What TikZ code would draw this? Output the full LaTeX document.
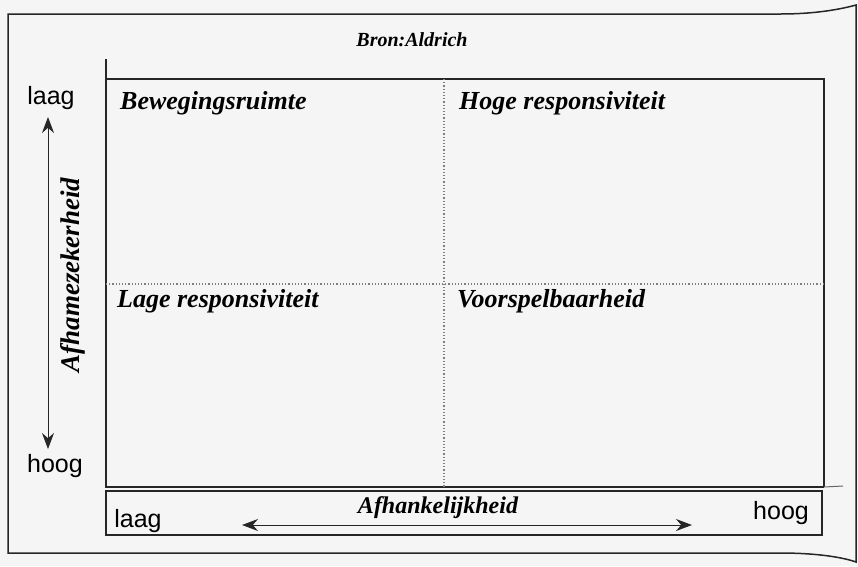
\documentclass[tikz,border=0pt]{standalone}
\usepackage{fontspec}
\setmainfont{Liberation Serif}
\newfontfamily\labelsans{Liberation Sans}
\usetikzlibrary{arrows.meta}
\begin{document}
\begin{tikzpicture}[x=1pt,y=-1pt,
  frame/.style={line width=1.5pt, draw=black!85},
  gridline/.style={line width=1.2pt, draw=black!50, dotted},
  quad/.style={font=\fontsize{26}{30}\selectfont\bfseries\itshape, anchor=west, inner sep=0pt},
  axislabel/.style={font=\fontsize{24}{28}\selectfont\bfseries\itshape, inner sep=0pt},
  endlabel/.style={font=\labelsans\fontsize{25}{29}\selectfont, inner sep=0pt},
  axisarrow/.style={line width=1pt, draw=black!85,
    {Stealth[length=16pt,width=12pt]}-{Stealth[length=16pt,width=12pt]}}
]
% paper
\fill[black!4] (0,0) rectangle (858,566);
\useasboundingbox (0,0) rectangle (858,566);

% outer frame with the curled right edge
\draw[frame] (780,14) -- (8,14) -- (8,553) -- (780,553)
  .. controls (820,553) and (845,558) .. (856,562) -- (856,5)
  .. controls (845,8) and (820,14) .. (780,14);

% matrix box
\draw[frame] (106,59) -- (106,487) -- (824,487);
\draw[frame] (106,79) -- (824,79) -- (824,487);
\draw[line width=1pt, draw=black!60] (824,487) -- (843,486);
% strip for the horizontal axis
\draw[frame] (106,491) rectangle (822,535);

% quadrant dividers
\draw[gridline] (106,284) -- (824,284);
\draw[gridline] (444,79) -- (444,487);

% title
\node[font=\fontsize{20}{24}\selectfont\bfseries\itshape, inner sep=0pt] (bron) at (412,40) {Bron:Aldrich};

% quadrant labels
\node[quad] (q1) at (120,103) {Bewegingsruimte};
\node[quad] (q2) at (459,103) {Hoge responsiviteit};
\node[quad] (q3) at (117,301) {Lage responsiviteit};
\node[quad] (q4) at (457,301) {Voorspelbaarheid};

% vertical axis
\node[endlabel] (vlow) at (51,98) {laag};
\node[endlabel] (vhigh) at (55,466) {hoog};
\node[axislabel, font=\fontsize{27}{31}\selectfont\bfseries\itshape, rotate=90] (vname) at (73,275) {Afhamezekerheid};
\coordinate (vtop) at (48,117);
\coordinate (vbot) at (48,449);
\draw[axisarrow] (vtop) -- (vbot);

% horizontal axis
\node[endlabel] (hlow) at (138,521) {laag};
\node[endlabel] (hhigh) at (781,513) {hoog};
\node[axislabel] (hname) at (438,508) {Afhankelijkheid};
\coordinate (hleft) at (242,525);
\coordinate (hright) at (692,525);
\draw[axisarrow] (hleft) -- (hright);
\end{tikzpicture}
\end{document}
